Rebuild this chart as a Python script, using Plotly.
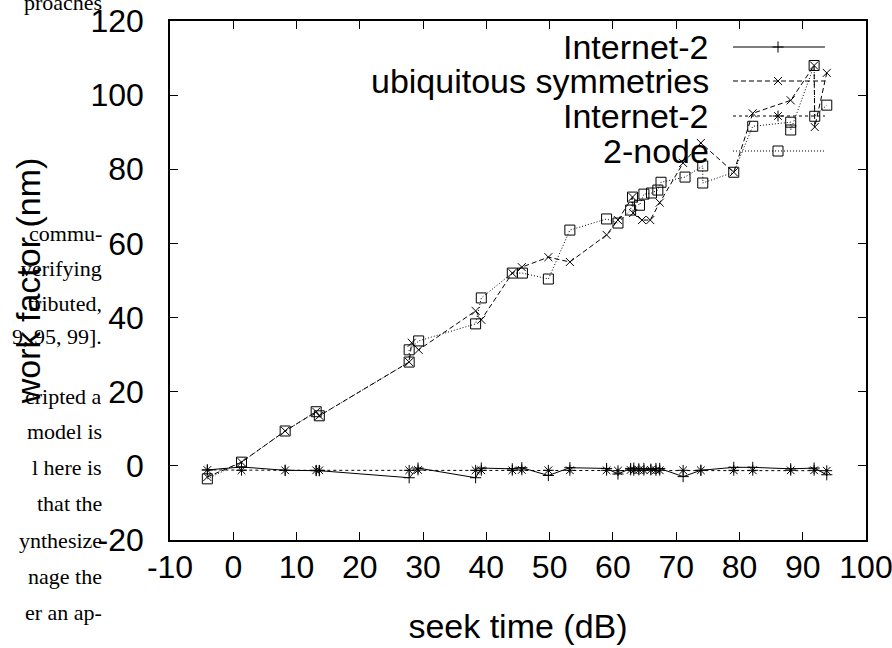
import plotly.graph_objects as go

# ---------------- data ----------------
x_inet_a = [-4.1, 1.3, 8.2, 13.1, 13.6, 27.8, 29.2, 38.3, 39.2, 44.1, 45.6, 49.8, 53.2, 59.0,
            60.8, 62.8, 63.3, 64.1, 64.9, 66.0, 66.8, 67.4, 71.1, 73.9, 79.1, 82.1, 88.1, 91.8, 93.8]
y_inet_a = [-1.1, -0.3, -1.2, -1.3, -1.3, -3.2, -0.6, -3.2, -0.6, -0.8, -0.5, -2.6, -0.5, -0.7,
            -2.2, -0.7, -0.6, -0.8, -0.7, -0.9, -0.7, -0.7, -2.9, -1.2, -0.4, -0.4, -0.8, -0.6, -2.4]

x_ubiq = [-4.1, 1.3, 8.2, 13.1, 13.6, 27.8, 28.2, 29.3, 38.3, 39.2, 44.1, 45.6, 49.8, 53.2, 59.0,
          60.8, 63.1, 63.2, 64.6, 65.9, 67.4, 71.1, 73.9, 79.1, 82.1, 88.1, 91.8, 91.9, 93.8]
y_ubiq = [-3.0, 1.0, 9.4, 14.6, 13.5, 28.0, 33.2, 31.3, 41.8, 39.4, 52.0, 53.6, 56.3, 55.0, 62.3,
          66.3, 72.5, 68.2, 66.3, 66.3, 71.0, 81.7, 87.1, 79.2, 95.1, 98.6, 108.0, 91.4, 106.0]

x_inet_b = x_inet_a
y_inet_b = [-1.1, -1.2, -1.2, -1.2, -1.2, -1.2, -1.1, -1.2, -1.2, -1.2, -1.1, -1.2, -1.2, -1.2,
            -1.3, -1.1, -1.2, -1.1, -1.2, -1.1, -1.2, -1.2, -1.2, -1.2, -1.2, -1.2, -1.2, -1.2, -1.3]

x_node = [-4.1, 1.3, 8.2, 13.1, 13.6, 27.8, 27.8, 29.3, 38.3, 39.2, 44.1, 45.7, 49.8, 53.2, 59.0,
          60.8, 62.8, 63.1, 64.2, 64.9, 66.1, 67.1, 67.6, 71.4, 74.2, 74.2, 79.1, 82.1, 88.1, 88.1,
          91.8, 91.9, 93.8]
y_node = [-3.5, 1.0, 9.4, 14.6, 13.5, 28.0, 31.3, 33.7, 38.3, 45.3, 52.0, 52.0, 50.4, 63.6, 66.6,
          65.5, 69.0, 72.5, 70.3, 73.3, 73.6, 74.4, 76.5, 77.9, 80.9, 76.3, 79.2, 91.6, 92.7, 90.6,
          108.0, 94.3, 97.3]

series_names = ["Internet-2", "ubiquitous symmetries", "Internet-2", "2-node"]

x_ticks = list(range(-10, 101, 10))
x_tick_text = ["-10", "0", "10", "20", "30", "40", "50", "60", "70", "80", "90", "100"]
y_ticks = list(range(-20, 121, 20))
y_tick_text = ["-20", "0", "20", "40", "60", "80", "100", "120"]

# stray text of the surrounding page visible at the left of the picture
page_lines = ["proaches", "commu-", "verifying", "tributed,", "9, 95, 99].", "cripted a",
              "model is", "l here is", "that the", "ynthesize", "nage the", "er an ap-"]

# ---------------- layout constants ----------------
W, H = 892, 648
L, R, T, B = 170, 866, 21, 540
FONT = "Liberation Sans, Arial, Helvetica, sans-serif"
FS = 34
TFS = 32


def px_x(p):
    return (p - L) / (R - L)


def px_y(p):
    return (B - p) / (B - T)


styles = [
    dict(dash="solid", symbol="cross-thin-open", size=8),
    dict(dash="5px,3px", symbol="x-thin-open", size=8),
    dict(dash="3px,3px", symbol="asterisk-open", size=9),
    dict(dash="1px,2px", symbol="square-open", size=10),
]
data_xy = [(x_inet_a, y_inet_a), (x_ubiq, y_ubiq), (x_inet_b, y_inet_b), (x_node, y_node)]

fig = go.Figure()
for (xs, ys), name, st in zip(data_xy, series_names, styles):
    fig.add_trace(go.Scatter(
        x=xs, y=ys, name=name, mode="lines+markers", showlegend=False,
        line=dict(color="black", width=1, dash=st["dash"]),
        marker=dict(symbol=st["symbol"], size=st["size"], color="black",
                    line=dict(color="black", width=1)),
    ))

# custom gnuplot-style key (text on the left, sample on the right)
key_rows = [47, 81, 116, 151]
annotations = []
for name, st, yrow in zip(series_names, styles, key_rows):
    fig.add_trace(go.Scatter(
        x=[733, 825], y=[yrow, yrow], xaxis="x2", yaxis="y2", mode="lines",
        line=dict(color="black", width=1, dash=st["dash"]), showlegend=False, hoverinfo="skip"))
    fig.add_trace(go.Scatter(
        x=[778], y=[yrow], xaxis="x2", yaxis="y2", mode="markers", showlegend=False,
        hoverinfo="skip",
        marker=dict(symbol=st["symbol"], size=st["size"], color="black",
                    line=dict(color="black", width=1))))
    annotations.append(dict(
        x=px_x(711), y=px_y(yrow), xref="paper", yref="paper", text=name, showarrow=False,
        xanchor="right", yanchor="middle", font=dict(family=FONT, size=FS, color="black")))

page_y = [3, 233, 268, 303, 336, 396, 431, 467, 503, 540, 576, 612]
for txt, yy in zip(page_lines, page_y):
    annotations.append(dict(
        x=px_x(104), y=px_y(yy), xref="paper", yref="paper", text=txt, showarrow=False,
        xanchor="right", yanchor="middle",
        font=dict(family="Liberation Serif, Times New Roman, serif", size=22, color="black")))

axis_common = dict(
    showline=True, linecolor="black", linewidth=1.5, mirror="ticks",
    ticks="inside", ticklen=8, tickwidth=1, tickcolor="black",
    showgrid=False, zeroline=False, automargin=False, ticklabeloverflow="allow",
    tickfont=dict(family=FONT, size=TFS, color="black"),
)

fig.update_layout(
    width=W, height=H,
    margin=dict(l=L, r=W - R, t=T, b=H - B, pad=0),
    paper_bgcolor="white", plot_bgcolor="white",
    showlegend=False,
    xaxis=dict(range=[-10, 100], tickvals=x_ticks, ticktext=x_tick_text, ticklabelstandoff=-2,
               title=dict(text="seek time (dB)", font=dict(family=FONT, size=FS, color="black"),
                          standoff=30),
               **axis_common),
    yaxis=dict(range=[-20, 120], tickvals=y_ticks, ticktext=y_tick_text, ticklabelstandoff=18,
               title=dict(text="work factor (nm)", font=dict(family=FONT, size=FS, color="black"),
                          standoff=40),
               **axis_common),
    xaxis2=dict(range=[L, R], overlaying="x", visible=False, fixedrange=True),
    yaxis2=dict(range=[B, T], overlaying="y", visible=False, fixedrange=True),
    annotations=annotations,
)

fig.write_html("out.html")
